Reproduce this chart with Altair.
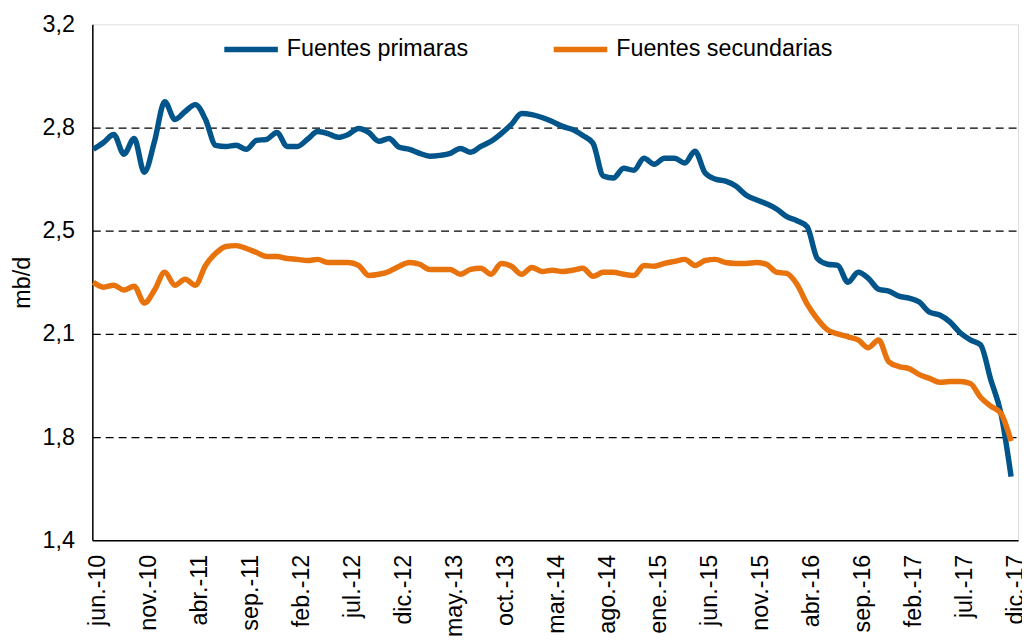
import json
import altair as alt
import pandas as pd

# month index 0 = jun.-10 ... 90 = dic.-17
primarias = [
    2.764, 2.788, 2.816, 2.747, 2.802, 2.684, 2.792, 2.930, 2.868, 2.896,
    2.920, 2.868, 2.778, 2.774, 2.778, 2.764, 2.795, 2.799, 2.823, 2.774,
    2.774, 2.799, 2.826, 2.819, 2.806, 2.816, 2.837, 2.823, 2.792, 2.802,
    2.771, 2.764, 2.750, 2.740, 2.743, 2.750, 2.767, 2.754, 2.774, 2.792,
    2.819, 2.851, 2.889, 2.885, 2.875, 2.861, 2.844, 2.833, 2.812, 2.785,
    2.671, 2.664, 2.698, 2.691, 2.733, 2.712, 2.733, 2.733, 2.716, 2.757,
    2.681, 2.660, 2.653, 2.636, 2.605, 2.588, 2.574, 2.556, 2.529, 2.515,
    2.494, 2.383, 2.363, 2.359, 2.300, 2.335, 2.314, 2.276, 2.269, 2.252,
    2.245, 2.231, 2.196, 2.186, 2.162, 2.124, 2.099, 2.082, 1.961, 1.843,
    1.622,
]
secundarias = [
    2.300, 2.283, 2.290, 2.273, 2.286, 2.228, 2.273, 2.335, 2.290, 2.311,
    2.290, 2.359, 2.401, 2.425, 2.428, 2.418, 2.404, 2.390, 2.390, 2.383,
    2.380, 2.376, 2.380, 2.369, 2.369, 2.369, 2.359, 2.324, 2.328, 2.338,
    2.356, 2.369, 2.363, 2.345, 2.345, 2.345, 2.328, 2.345, 2.349, 2.328,
    2.366, 2.356, 2.328, 2.352, 2.338, 2.342, 2.338, 2.342, 2.349, 2.321,
    2.335, 2.335, 2.328, 2.324, 2.359, 2.356, 2.366, 2.373, 2.380, 2.359,
    2.376, 2.380, 2.369, 2.366, 2.366, 2.369, 2.363, 2.335, 2.331, 2.293,
    2.224, 2.172, 2.134, 2.120, 2.110, 2.099, 2.072, 2.099, 2.023, 2.006,
    1.999, 1.978, 1.965, 1.951, 1.954, 1.954, 1.947, 1.899, 1.868, 1.843,
    1.746,
]
tick_labels = [
    "jun.-10", "nov.-10", "abr.-11", "sep.-11", "feb.-12", "jul.-12",
    "dic.-12", "may.-13", "oct.-13", "mar.-14", "ago.-14", "ene.-15",
    "jun.-15", "nov.-15", "abr.-16", "sep.-16", "feb.-17", "jul.-17",
    "dic.-17",
]
series_names = ["Fuentes primaras", "Fuentes secundarias"]
colors = ["#02558B", "#E8720C"]
y_ticks = [1.4, 1.76, 2.12, 2.48, 2.84, 3.2]

rows = []
for i, v in enumerate(primarias):
    rows.append({"mes": i, "valor": v, "serie": series_names[0]})
for i, v in enumerate(secundarias):
    rows.append({"mes": i, "valor": v, "serie": series_names[1]})
df = pd.DataFrame(rows)

FONT = "Liberation Sans"
FS = 23.5

label_expr = json.dumps(tick_labels) + "[round(datum.value / 5)]"

chart = (
    alt.Chart(df)
    .mark_line(strokeWidth=5.5, interpolate="monotone")
    .encode(
        x=alt.X(
            "mes:Q",
            scale=alt.Scale(domain=[-0.1, 90.68], nice=False, zero=False),
            axis=alt.Axis(
                values=list(range(0, 91, 5)),
                labelExpr=label_expr,
                labelAngle=270,
                labelAlign="right",
                labelBaseline="middle",
                labelPadding=14,
                labelOffset=4,
                labelFontSize=FS,
                labelFont=FONT,
                labelColor="black",
                ticks=False,
                grid=False,
                domainColor="black",
                domainWidth=1.5,
                title=None,
                labelOverlap=False,
            ),
        ),
        y=alt.Y(
            "valor:Q",
            scale=alt.Scale(domain=[1.4, 3.2], nice=False, zero=False),
            axis=alt.Axis(
                values=y_ticks,
                labelExpr="replace(format(datum.value, '.1f'), '.', ',')",
                labelFontSize=FS,
                labelFont=FONT,
                labelColor="black",
                labelPadding=18,
                ticks=False,
                grid=True,
                gridColor="black",
                gridDash=[8, 5],
                gridWidth=1.3,
                gridOpacity={
                    "condition": {
                        "test": "datum.value > 3.1 || datum.value < 1.5",
                        "value": 0,
                    },
                    "value": 1,
                },
                domainColor="black",
                domainWidth=1.5,
                title="mb/d",
                titleFont=FONT,
                titleFontSize=FS,
                titleFontWeight="normal",
                titleColor="black",
                titleX=-70,
                titleY=260,
                titleAngle=270,
                titleAlign="center",
                titleBaseline="middle",
                labelOverlap=False,
            ),
        ),
        color=alt.Color(
            "serie:N",
            scale=alt.Scale(domain=series_names, range=colors),
            legend=alt.Legend(
                orient="none",
                legendX=130,
                legendY=-5,
                direction="horizontal",
                title=None,
                symbolType="stroke",
                symbolSize=2916,
                symbolStrokeWidth=5.5,
                labelFontSize=FS,
                labelFont=FONT,
                labelColor="black",
                labelOffset=6,
                labelLimit=0,
                columnPadding=75,
            ),
        ),
    )
    .properties(
        width=933,
        height=520,
        autosize=alt.AutoSizeParams(type="none"),
        padding={"left": 85, "top": 14, "right": 4, "bottom": 95},
    )
    .configure_view(stroke="black", strokeWidth=1.5)
    .configure(background="white")
)

chart.save("out.html", embed_options={"renderer": "svg", "actions": False})
